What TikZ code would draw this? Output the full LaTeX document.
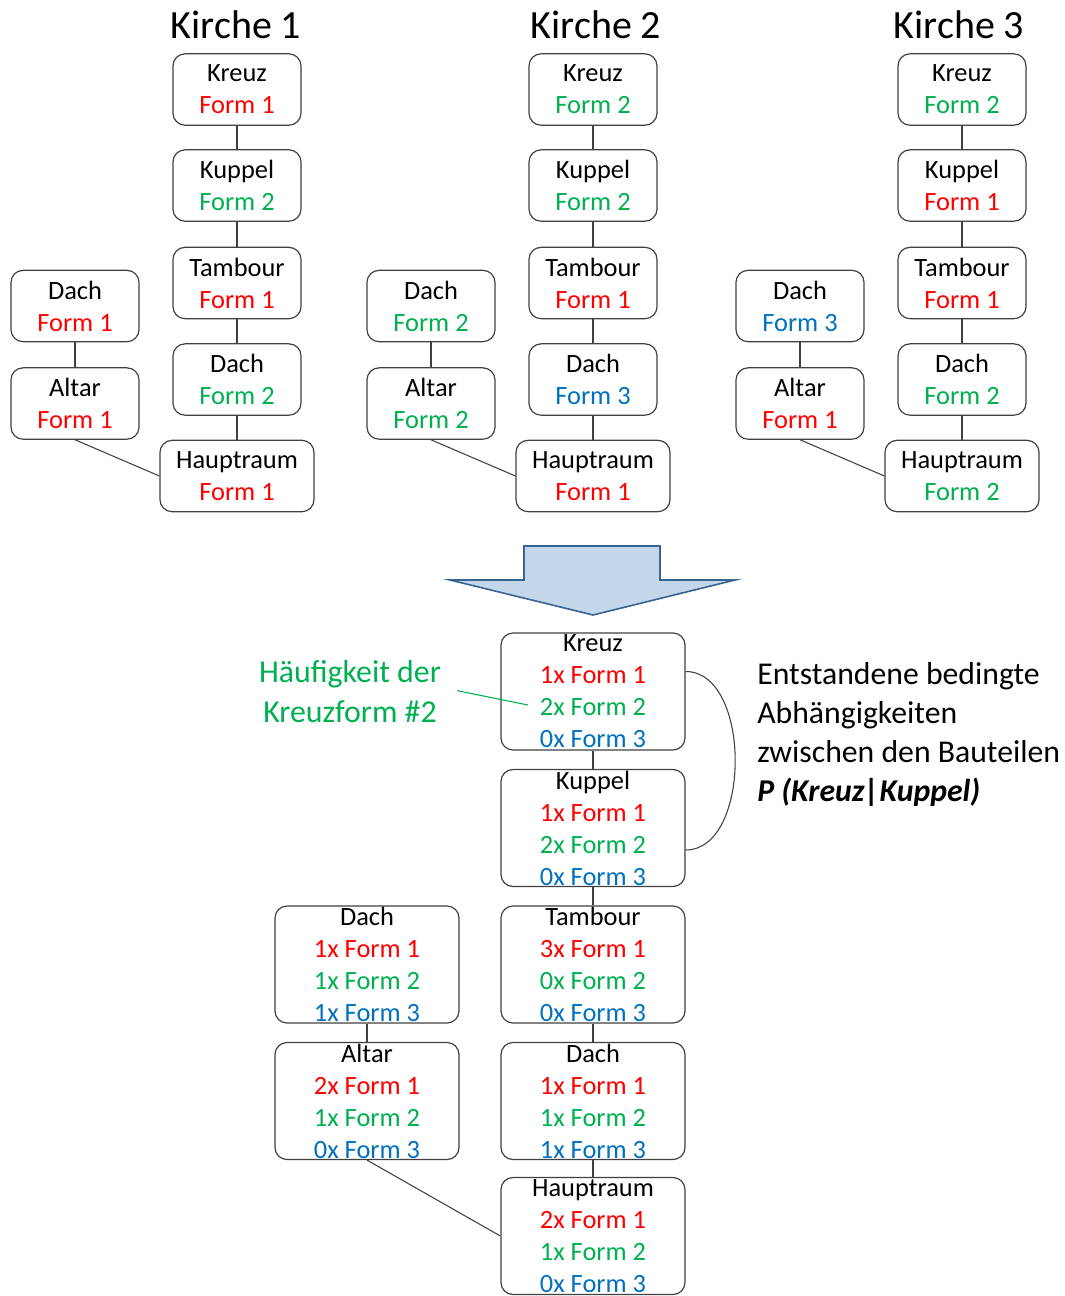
\documentclass[tikz,border=0pt]{standalone}
\usepackage{fontspec}
\setmainfont{Carlito}
\usepackage{tikz}

\definecolor{fred}{RGB}{255,0,0}
\definecolor{fgreen}{RGB}{0,176,80}
\definecolor{fblue}{RGB}{0,112,192}
\definecolor{arrowfill}{RGB}{196,214,234}
\definecolor{arrowline}{RGB}{56,100,146}

\newcommand{\fa}[1]{\textcolor{fred}{#1}}
\newcommand{\fb}[1]{\textcolor{fgreen}{#1}}
\newcommand{\fc}[1]{\textcolor{fblue}{#1}}

\begin{document}
\begin{tikzpicture}[x=0.75pt,y=-0.75pt,
    part/.style={draw=black!75,line width=0.9pt,rounded corners=9pt,align=center,
      minimum width=96pt,minimum height=53.5pt,inner sep=0pt,
      font=\fontsize{19.8}{24}\selectfont},
    widepart/.style={part,minimum width=115.5pt},
    sumpart/.style={part,minimum width=138pt,minimum height=87.75pt},
    link/.style={draw=black!75,line width=0.8pt}]
  \useasboundingbox (0,0) rectangle (1064,1296);
  % Kirche 1
  \node[font=\fontsize{30}{34}\selectfont] (t1) at (236,25) {Kirche 1};
  \node[part] (k1) at (237,89.5) {Kreuz\\\fa{Form 1}};
  \node[part] (ku1) at (237,185.5) {Kuppel\\\fb{Form 2}};
  \node[part] (ta1) at (237,283) {Tambour\\\fa{Form 1}};
  \node[part] (d1) at (237,379.5) {Dach\\\fb{Form 2}};
  \node[widepart] (h1) at (237,476) {Hauptraum\\\fa{Form 1}};
  \node[part] (ld1) at (75,306) {Dach\\\fa{Form 1}};
  \node[part] (a1) at (75,403.5) {Altar\\\fa{Form 1}};
  \draw[link] (k1) -- (ku1) (ku1) -- (ta1) (ta1) -- (d1) (d1) -- (h1) (ld1) -- (a1);
  \draw[link] (a1.south) -- (h1.west);
  % Kirche 2
  \node[font=\fontsize{30}{34}\selectfont] (t2) at (596,25) {Kirche 2};
  \node[part] (k2) at (593,89.5) {Kreuz\\\fb{Form 2}};
  \node[part] (ku2) at (593,185.5) {Kuppel\\\fb{Form 2}};
  \node[part] (ta2) at (593,283) {Tambour\\\fa{Form 1}};
  \node[part] (d2) at (593,379.5) {Dach\\\fc{Form 3}};
  \node[widepart] (h2) at (593,476) {Hauptraum\\\fa{Form 1}};
  \node[part] (ld2) at (431,306) {Dach\\\fb{Form 2}};
  \node[part] (a2) at (431,403.5) {Altar\\\fb{Form 2}};
  \draw[link] (k2) -- (ku2) (ku2) -- (ta2) (ta2) -- (d2) (d2) -- (h2) (ld2) -- (a2);
  \draw[link] (a2.south) -- (h2.west);
  % Kirche 3
  \node[font=\fontsize{30}{34}\selectfont] (t3) at (959,25) {Kirche 3};
  \node[part] (k3) at (962,89.5) {Kreuz\\\fb{Form 2}};
  \node[part] (ku3) at (962,185.5) {Kuppel\\\fa{Form 1}};
  \node[part] (ta3) at (962,283) {Tambour\\\fa{Form 1}};
  \node[part] (d3) at (962,379.5) {Dach\\\fb{Form 2}};
  \node[widepart] (h3) at (962,476) {Hauptraum\\\fb{Form 2}};
  \node[part] (ld3) at (800,306) {Dach\\\fc{Form 3}};
  \node[part] (a3) at (800,403.5) {Altar\\\fa{Form 1}};
  \draw[link] (k3) -- (ku3) (ku3) -- (ta3) (ta3) -- (d3) (d3) -- (h3) (ld3) -- (a3);
  \draw[link] (a3.south) -- (h3.west);
  % Pfeil
  \draw[fill=arrowfill,draw=arrowline,line width=1.2pt,line join=miter]
    (524,546) -- (660,546) -- (660,580) -- (735,580) -- (593,615)
    -- (450,580) -- (524,580) -- cycle;
  % Ergebnis
  \node[sumpart] (K) at (593,691.5) {Kreuz\\\fa{1x Form 1}\\\fb{2x Form 2}\\\fc{0x Form 3}};
  \node[sumpart] (KU) at (593,828) {Kuppel\\\fa{1x Form 1}\\\fb{2x Form 2}\\\fc{0x Form 3}};
  \node[sumpart] (TA) at (593,964.5) {Tambour\\\fa{3x Form 1}\\\fb{0x Form 2}\\\fc{0x Form 3}};
  \node[sumpart] (D) at (593,1101) {Dach\\\fa{1x Form 1}\\\fb{1x Form 2}\\\fc{1x Form 3}};
  \node[sumpart] (H) at (593,1236) {Hauptraum\\\fa{2x Form 1}\\\fb{1x Form 2}\\\fc{0x Form 3}};
  \node[sumpart] (LD) at (367,964.5) {Dach\\\fa{1x Form 1}\\\fb{1x Form 2}\\\fc{1x Form 3}};
  \node[sumpart] (A) at (367,1101) {Altar\\\fa{2x Form 1}\\\fb{1x Form 2}\\\fc{0x Form 3}};
  \draw[link] (K) -- (KU) (KU) -- (TA) (TA) -- (D) (D) -- (H) (LD) -- (A);
  \draw[link] (A.south) -- (H.west);
  \draw[link] ([yshift=15pt]K.east) to[out=0,in=0,looseness=0.95] ([yshift=-16.5pt]KU.east);
  % Beschriftung
  \node[fgreen,align=center,inner sep=0pt,font=\fontsize{23.9}{30}\selectfont] (hf) at (350,692)
    {Häufigkeit der\\Kreuzform \#2};
  \coordinate (hfe) at (528,705);
  \draw[fgreen,line width=0.8pt] ([xshift=12pt,yshift=1pt]hf.east) -- (hfe);
  \node[anchor=west,align=left,inner sep=0pt,font=\fontsize{23.8}{29.25}\selectfont] (bt) at (757,734.5)
    {Entstandene bedingte\\Abhängigkeiten\\zwischen den Bauteilen\\\textbf{\textit{P (Kreuz|Kuppel)}}};
\end{tikzpicture}
\end{document}
